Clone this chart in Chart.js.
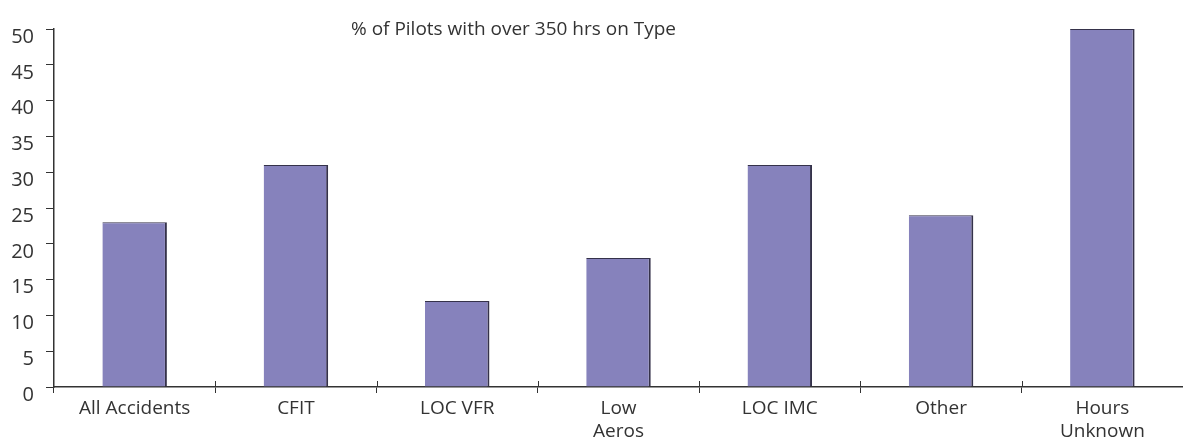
<!DOCTYPE html>
<html>
<head>
<meta charset="utf-8">
<script src="https://cdn.jsdelivr.net/npm/chart.js@4.4.1/dist/chart.umd.min.js"></script>
<style>
  html, body { margin: 0; padding: 0; background: #fff; }
  #wrap { width: 1183px; height: 444px; }
</style>
</head>
<body>
<div id="wrap"><canvas id="chart"></canvas></div>
<script>
// categories and values
const categories = ['All Accidents', 'CFIT', 'LOC VFR', ['Low', 'Aeros'], 'LOC IMC', 'Other', ['Hours', 'Unknown']];
const pilotsOver350 = [23, 31, 12, 18, 31, 24, 50];
const yTicks = [0, 5, 10, 15, 20, 25, 30, 35, 40, 45, 50];
const chartTitle = '% of Pilots with over 350 hrs on Type';

const textColor = '#333333';
const fontFamily = '"Open Sans", "Noto Sans", sans-serif';

// title sits left of centre, inside the plot
const titlePlugin = {
    id: 'plotTitle',
    afterDraw(chart) {
        const { ctx, chartArea } = chart;
        ctx.save();
        ctx.font = '19px ' + fontFamily;
        ctx.fillStyle = textColor;
        ctx.textAlign = 'center';
        ctx.textBaseline = 'middle';
        ctx.fillText(chartTitle, chartArea.left + chartArea.width * 0.407, 30);
        ctx.restore();
    }
};

// small tick marks above the x axis too, between categories
const crossTicks = {
    id: 'crossTicks',
    afterDraw(chart) {
        const { ctx, chartArea } = chart;
        const x = chart.scales.x;
        ctx.save();
        ctx.strokeStyle = textColor;
        ctx.lineWidth = 1;
        for (let i = 1; i < categories.length; i++) {
            const px = Math.round((x.getPixelForValue(i - 1) + x.getPixelForValue(i)) / 2) + 0.5;
            ctx.beginPath();
            ctx.moveTo(px, chartArea.bottom - 6);
            ctx.lineTo(px, chartArea.bottom);
            ctx.stroke();
        }
        ctx.restore();
    }
};

new Chart(document.getElementById('chart'), {
    type: 'bar',
    data: {
        labels: categories,
        datasets: [{
            data: pilotsOver350,
            backgroundColor: '#8682bc',
            borderColor: '#35324a',
            borderWidth: { top: 1, right: 2, left: 0, bottom: 0 },
            borderSkipped: false,
            categoryPercentage: 1,
            barPercentage: 0.4
        }]
    },
    options: {
        responsive: true,
        maintainAspectRatio: false,
        animation: false,
        layout: { padding: { top: 29, right: 0, left: 0, bottom: 0 } },
        plugins: {
            legend: { display: false },
            tooltip: { enabled: false }
        },
        scales: {
            x: {
                grid: {
                    offset: true,
                    drawOnChartArea: false,
                    tickLength: 6,
                    color: textColor
                },
                border: { color: textColor, width: 1.5 },
                ticks: {
                    color: textColor,
                    font: { family: fontFamily, size: 19, lineHeight: 1.2 },
                    padding: 4,
                    maxRotation: 0,
                    autoSkip: false
                },
                afterFit(scale) { scale.height = 57; }
            },
            y: {
                min: 0,
                max: 50,
                afterBuildTicks(scale) { scale.ticks = yTicks.map(v => ({ value: v })); },
                grid: {
                    drawOnChartArea: false,
                    tickLength: 8,
                    color: textColor
                },
                border: { color: textColor, width: 1.5 },
                ticks: {
                    color: textColor,
                    font: { family: fontFamily, size: 20 },
                    padding: 12,
                    labelOffset: 8
                },
                afterFit(scale) { scale.width = 54; }
            }
        }
    },
    plugins: [titlePlugin, crossTicks]
});
</script>
</body>
</html>
